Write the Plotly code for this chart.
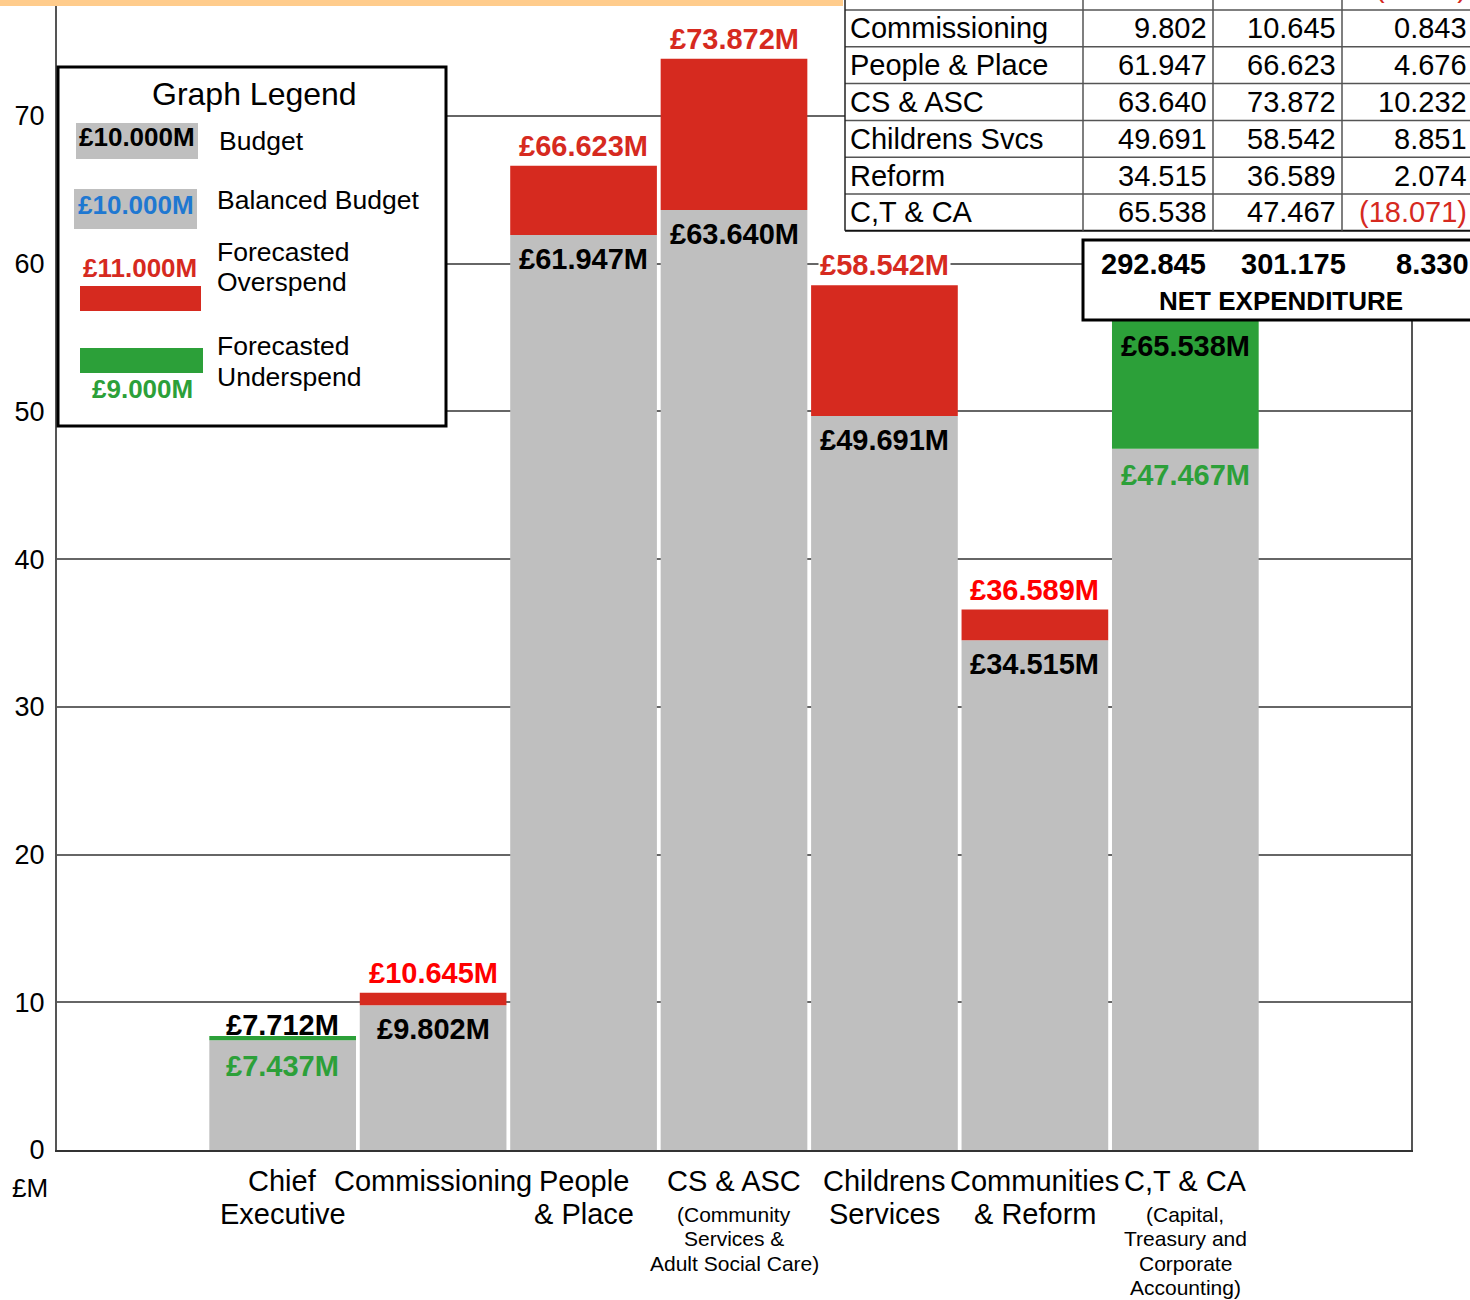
import plotly.graph_objects as go

# ---------------------------------------------------------------------------
# Data
# ---------------------------------------------------------------------------

services = ["Chief Executive", "Commissioning", "People & Place", "CS & ASC",
            "Childrens Svcs", "Reform", "C,T & CA"]
budget = [7.712, 9.802, 61.947, 63.640, 49.691, 34.515, 65.538]
forecast = [7.437, 10.645, 66.623, 73.872, 58.542, 36.589, 47.467]
variance = [-0.275, 0.843, 4.676, 10.232, 8.851, 2.074, -18.071]

cat_main = [["Chief", "Executive"], ["Commissioning"], ["People", "& Place"],
            ["CS & ASC"], ["Childrens", "Services"], ["Communities", "& Reform"],
            ["C,T & CA"]]
cat_sub = [[], [], [], ["(Community", "Services &", "Adult Social Care)"], [], [],
           ["(Capital,", "Treasury and", "Corporate", "Accounting)"]]

y_ticks = [0, 10, 20, 30, 40, 50, 60, 70]

# ---------------------------------------------------------------------------
# Styling
# ---------------------------------------------------------------------------

GREY = "#bfbfbf"
RED = "#d62a1f"
BRIGHT_RED = "#ff0000"
GREEN = "#2ca039"
BLUE = "#1f78d1"
ORANGE = "#ffcc8c"
FONT = "Liberation Sans, Arial, sans-serif"

over_label_color = [RED, BRIGHT_RED, RED, RED, RED, BRIGHT_RED, RED]
upper_below_box = [False, False, False, False, False, False, True]

W, H = 1470, 1300
L, R, T, B = 57, 1411, 0, 1150  # plot area in pixels
YMAX = 77.85


def px(x):
    return (x - L) / (R - L)


def py(y):
    return (B - y) / (B - T)


def money(v):
    return f"£{v:.3f}M"


# ---------------------------------------------------------------------------
# Bars
# ---------------------------------------------------------------------------

xs = list(range(1, len(budget) + 1))
low = [min(b, f) for b, f in zip(budget, forecast)]
diff = [abs(f - b) for b, f in zip(budget, forecast)]
top_colors = [RED if f > b else GREEN for b, f in zip(budget, forecast)]

fig = go.Figure()
fig.add_trace(go.Bar(x=xs, y=low, marker_color=GREY, width=0.975,
                     marker_line_width=0, hoverinfo="skip"))
fig.add_trace(go.Bar(x=xs, y=diff, base=low, marker_color=top_colors, width=0.975,
                     marker_line_width=0, hoverinfo="skip"))

shapes = []
ann = []


def text(x, y, s, size, color="#000", bold=False, xanchor="center", yanchor="middle",
         xref="paper", yref="paper", yshift=0, bg=None):
    a = dict(x=x, y=y, xref=xref, yref=yref, text=f"<b>{s}</b>" if bold else s,
             showarrow=False, xanchor=xanchor, yanchor=yanchor, yshift=yshift,
             font=dict(family=FONT, size=size, color=color))
    if bg:
        a["bgcolor"] = bg
    ann.append(a)


# bar value labels
for i, (b, f) in enumerate(zip(budget, forecast)):
    x = xs[i]
    if f > b:
        text(x, f, money(f), 29, over_label_color[i], True, xref="x", yref="y",
             yanchor="bottom", yshift=2, bg="white")
        text(x, b, money(b), 29, "#000", True, xref="x", yref="y",
             yanchor="top", yshift=-6)
    else:
        if upper_below_box[i]:
            text(x, py(346), money(b), 29, "#000", True, xref="x")
        else:
            text(x, b, money(b), 29, "#000", True, xref="x", yref="y",
                 yanchor="bottom", yshift=-7)
        text(x, f, money(f), 29, GREEN, True, xref="x", yref="y",
             yanchor="top", yshift=-8)

# category labels under the axis
for i in range(len(cat_main)):
    for j, line in enumerate(cat_main[i]):
        text(xs[i], 0, line, 29, xref="x", yshift=-(31 + 33 * j))
    for j, line in enumerate(cat_sub[i]):
        text(xs[i], 0, line, 21, xref="x", yshift=-(64 + 24.6 * j))

text(px(30), py(1188), "£M", 26)

# orange strip at the very top
shapes.append(dict(type="rect", xref="paper", yref="paper", x0=px(0), x1=px(843),
                   y0=py(6), y1=py(-5), fillcolor=ORANGE, line_width=0))

# ---------------------------------------------------------------------------
# Legend box
# ---------------------------------------------------------------------------

shapes.append(dict(type="rect", xref="paper", yref="paper", x0=px(58), x1=px(446),
                   y0=py(426), y1=py(67), fillcolor="white",
                   line=dict(color="#000", width=3)))
for x0, x1, y0, y1, c in [(76, 198, 123, 159, GREY), (74, 197, 189, 229, GREY),
                          (80, 201, 286, 311, RED), (80, 203, 348, 373, GREEN)]:
    shapes.append(dict(type="rect", xref="paper", yref="paper", x0=px(x0), x1=px(x1),
                       y0=py(y1), y1=py(y0), fillcolor=c, line_width=0))
text(px(255), py(94), "Graph Legend", 32)
text(px(137), py(137), "£10.000M", 26, "#000", True)
text(px(136), py(205), "£10.000M", 26, BLUE, True)
text(px(140), py(268), "£11.000M", 26, RED, True)
text(px(142), py(389), "£9.000M", 26, GREEN, True)
text(px(217), py(141), "Budget", 26.5, xanchor="left")
text(px(215), py(200), "Balanced Budget", 26.5, xanchor="left")
text(px(215), py(252), "Forecasted", 26.5, xanchor="left")
text(px(215), py(282), "Overspend", 26.5, xanchor="left")
text(px(215), py(346), "Forecasted", 26.5, xanchor="left")
text(px(215), py(377), "Underspend", 26.5, xanchor="left")

# ---------------------------------------------------------------------------
# Summary table (top right) - first row is mostly cut off by the page edge
# ---------------------------------------------------------------------------

col_x = [845, 1083, 1213, 1342, 1480]
row_h = 36.8
row_top0 = 10 - row_h
table_bottom = row_top0 + row_h * len(services)

shapes.append(dict(type="rect", xref="paper", yref="paper", x0=px(845), x1=px(1480),
                   y0=py(240), y1=py(-40), fillcolor="white", line_width=0))
for k in range(1, len(services)):
    yy = row_top0 + row_h * k
    shapes.append(dict(type="line", xref="paper", yref="paper", x0=px(845), x1=px(1480),
                       y0=py(yy), y1=py(yy), line=dict(color="#555", width=1.5)))
shapes.append(dict(type="line", xref="paper", yref="paper", x0=px(845), x1=px(1480),
                   y0=py(table_bottom), y1=py(table_bottom), line=dict(color="#111", width=2)))
for cx in col_x[:4]:
    shapes.append(dict(type="line", xref="paper", yref="paper", x0=px(cx), x1=px(cx),
                       y0=py(table_bottom), y1=py(-40),
                       line=dict(color="#555" if cx > 845 else "#222", width=1.5)))

for i, name in enumerate(services):
    yc = row_top0 + row_h * i + row_h / 2 - (5 if i == 0 else 0)
    text(px(848), py(yc), name, 29, xanchor="left")
    text(px(col_x[2] - 4), py(yc), f"{budget[i]:.3f}", 29, xanchor="right")
    text(px(col_x[3] - 4), py(yc), f"{forecast[i]:.3f}", 29, xanchor="right")
    v = variance[i]
    if v < 0:
        text(px(1469), py(yc), f"({-v:.3f})", 29, RED, xanchor="right")
    else:
        text(px(1469), py(yc), f"{v:.3f}", 29, xanchor="right")

# net expenditure box
shapes.append(dict(type="rect", xref="paper", yref="paper", x0=px(1083), x1=px(1480),
                   y0=py(320), y1=py(240), fillcolor="white",
                   line=dict(color="#000", width=3)))
text(px(1208), py(264), f"{sum(budget):.3f}", 29, bold=True, xanchor="right")
text(px(1348), py(264), f"{sum(forecast):.3f}", 29, bold=True, xanchor="right")
text(px(1471), py(264), f"{sum(variance):.3f}", 29, bold=True, xanchor="right")
text(px(1281), py(301), "NET EXPENDITURE", 26, bold=True)

# ---------------------------------------------------------------------------
# Layout
# ---------------------------------------------------------------------------

fig.update_layout(
    width=W,
    height=H,
    margin=dict(l=L, r=W - R, t=T, b=H - B),
    barmode="overlay",
    showlegend=False,
    plot_bgcolor="white",
    paper_bgcolor="white",
    font=dict(family=FONT, size=27, color="#000"),
    shapes=shapes,
    annotations=ann,
    xaxis=dict(range=[-0.5, 8.5], showticklabels=False, showgrid=False, zeroline=False,
               showline=True, linecolor="#333", linewidth=2, ticks="", fixedrange=True),
    yaxis=dict(range=[0, YMAX], tickvals=y_ticks, ticks="", showgrid=True,
               gridcolor="#666", gridwidth=1.5, zeroline=False, showline=True,
               linecolor="#555", linewidth=2, mirror=True, ticklabelstandoff=5,
               tickfont=dict(size=27), fixedrange=True),
)

# page margin off so the figure sits at the window origin
fig.write_html("out.html", config={"displayModeBar": False},
               post_script="document.body.style.margin='0';")
